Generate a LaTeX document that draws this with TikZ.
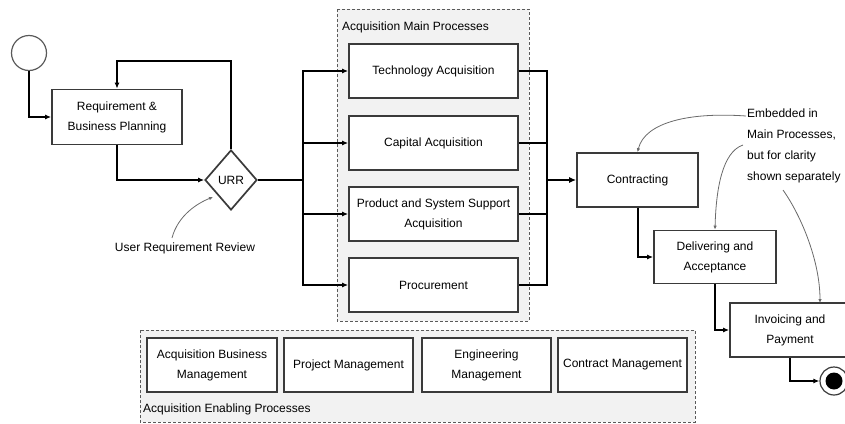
\documentclass[tikz,border=0pt]{standalone}
\usepackage{fontspec}
\setmainfont{Liberation Sans}
\usetikzlibrary{arrows.meta,shapes.geometric,calc}
\definecolor{boxline}{HTML}{3A3A3A}
\definecolor{groupfill}{HTML}{F2F2F2}
\definecolor{groupline}{HTML}{5A5A5A}
\definecolor{noteline}{HTML}{6A6A6A}
\begin{document}
\begin{tikzpicture}[x=1pt,y=-1pt,
  font=\fontsize{12}{20}\selectfont,
  procbox/.style={draw=boxline,line width=1.7pt,fill=white,rectangle,align=center,inner sep=2pt},
  group/.style={draw=groupline,fill=groupfill,line width=1pt,dash pattern=on 3pt off 2pt},
  flow/.style={line width=2pt,-{Latex[length=6pt,width=5pt]}},
  plainflow/.style={line width=2pt},
  thickflow/.style={line width=2.8pt},
  note/.style={draw=noteline,line width=0.8pt,-{Latex[length=4pt,width=3.5pt]}}
]
\useasboundingbox (0,0) rectangle (845,423);

% process groups
\draw[group] (337,9) rectangle (529,321);
\node[anchor=west,inner sep=0pt] (mainlbl) at (342,27) {Acquisition Main Processes};
\draw[group] (140,330) rectangle (695,422);
\node[anchor=west,inner sep=0pt] (enablbl) at (143,409) {Acquisition Enabling Processes};

% start and planning loop
\node[circle,draw=groupline,line width=1.2pt,minimum size=35pt,inner sep=0pt] (start) at (29,53) {};
\node[procbox,minimum width=130pt,minimum height=55pt] (req) at (117,117) {Requirement \&\\Business Planning};
\node[diamond,draw=boxline,line width=1.7pt,fill=white,minimum width=52pt,minimum height=60pt,inner sep=0pt] (urr) at (231,180) {URR};

% main acquisition processes
\node[procbox,minimum width=169pt,minimum height=54pt] (tech) at (433.5,71) {Technology Acquisition};
\node[procbox,minimum width=169pt,minimum height=54pt] (capital) at (433.5,143) {Capital Acquisition};
\node[procbox,minimum width=169pt,minimum height=54pt] (product) at (433.5,214) {Product and System Support\\Acquisition};
\node[procbox,minimum width=169pt,minimum height=54pt] (procure) at (433.5,285) {Procurement};

% downstream steps
\node[procbox,minimum width=121pt,minimum height=54pt] (contr) at (637.5,180) {Contracting};
\node[procbox,minimum width=122pt,minimum height=53pt] (deliv) at (715,257) {Delivering and\\Acceptance};
\node[procbox,minimum width=120pt,minimum height=54pt] (inv) at (790,330) {Invoicing and\\Payment};
\node[circle,draw=boxline,line width=1.2pt,fill=white,minimum size=28pt,inner sep=0pt] (finish) at (834,381) {};
\node[circle,fill=black,minimum size=17pt,inner sep=0pt] (finishdot) at (finish) {};

% enabling processes
\node[procbox,minimum width=130pt,minimum height=54pt] (abm) at (212,365) {Acquisition Business\\Management};
\node[procbox,minimum width=129pt,minimum height=54pt] (pm) at (348.5,365) {Project Management};
\node[procbox,minimum width=129pt,minimum height=54pt] (em) at (486.5,365) {Engineering\\Management};
\node[procbox,minimum width=129pt,minimum height=54pt] (cm) at (622.5,365) {Contract Management};

% flow
\coordinate (loopc) at (117,61);
\coordinate (split) at (303,180);
\coordinate (merge) at (547,180);
\draw[flow] (start) |- (req);
\draw[flow] (urr.north) |- (loopc) -- (req.north);
\draw[flow] (req) |- (urr.west);
\draw[thickflow] (urr.east) -- (split);
\draw[flow] (split) |- (tech.west);
\draw[flow] (split) |- (capital.west);
\draw[flow] (split) |- (product.west);
\draw[flow] (split) |- (procure.west);
\draw[plainflow] (tech.east) -| (merge);
\draw[plainflow] (capital.east) -| (merge);
\draw[plainflow] (product.east) -| (merge);
\draw[plainflow] (procure.east) -| (merge);
\draw[thickflow,-{Latex[length=7pt,width=6pt]}] (merge) -- (contr.west);
\draw[flow] (contr) |- (deliv);
\draw[flow] (deliv) |- (inv);
\draw[flow] (inv) |- (finish);

% annotations
\node[anchor=center,inner sep=0pt] (urrnote) at (185,248) {User Requirement Review};
\draw[note] (172,238) .. controls (178,215) and (198,203) .. (213,197);
\node[anchor=north west,align=left,inner sep=0pt,font=\fontsize{12}{21}\selectfont] (embed) at (747,109) {Embedded in\\Main Processes,\\but for clarity\\shown separately};
\draw[note] (746,116) .. controls (690,112) and (645,122) .. (contr.north);
\draw[note] (743,145) .. controls (722,152) and (716,190) .. (deliv.north);
\draw[note] (783,190) .. controls (802,217) and (820,262) .. (820,303);
\end{tikzpicture}
\end{document}
